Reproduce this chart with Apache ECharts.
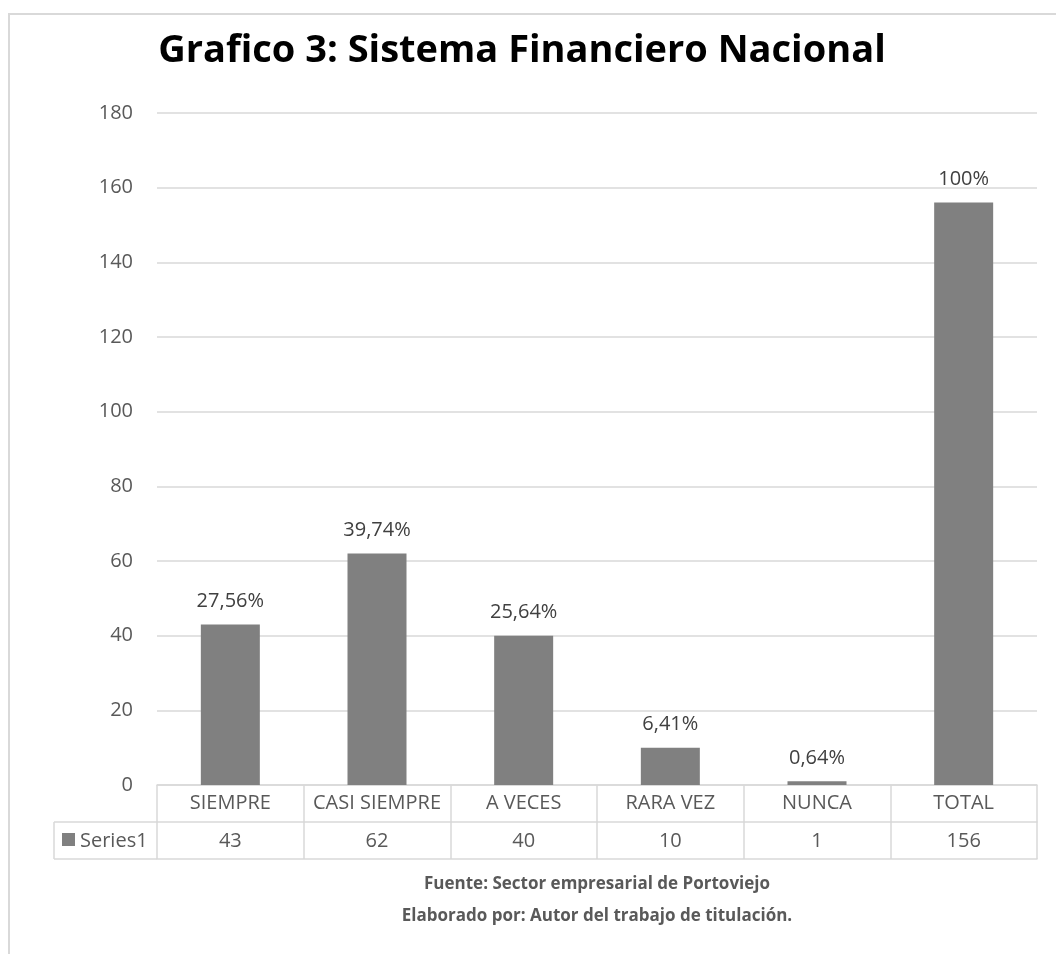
<!DOCTYPE html>
<html><head><meta charset="utf-8">
<script src="https://cdn.jsdelivr.net/npm/echarts@6/dist/echarts.min.js"></script>
<style>
html,body{margin:0;padding:0;background:#fff;}
#frame{position:absolute;left:8px;top:13px;width:1048px;height:941px;border-left:2px solid #d9d9d9;border-top:2px solid #d9d9d9;box-sizing:border-box;}
#chart{position:absolute;left:0;top:0;width:1056px;height:954px;}
</style></head>
<body>
<div id="frame"></div>
<div id="chart"></div>
<script>
const categories = ['SIEMPRE', 'CASI SIEMPRE', 'A VECES', 'RARA VEZ', 'NUNCA', 'TOTAL'];
const values = [43, 62, 40, 10, 1, 156];
const pctLabels = ['27,56%', '39,74%', '25,64%', '6,41%', '0,64%', '100%'];
const yTicks = [0, 20, 40, 60, 80, 100, 120, 140, 160, 180];
const seriesName = 'Series1';
const titleText = 'Grafico 3: Sistema Financiero Nacional';
const footer1 = 'Fuente: Sector empresarial de Portoviejo';
const footer2 = 'Elaborado por: Autor del trabajo de titulación.';

const FONT = '"Open Sans", "Noto Sans", sans-serif';
const chart = echarts.init(document.getElementById('chart'));
const gridLeft = 157, gridRight = 19, gridTop = 113, gridBottom = 169;
const rowH = 37;
const lineCol = '#d9d9d9';

chart.setOption({
  animation: false,
  title: {
    text: titleText, left: 517, top: 27, textAlign: 'center',
    textStyle: { fontFamily: FONT, fontWeight: 'bold', fontSize: 38, color: '#000' }
  },
  grid: { left: gridLeft, right: gridRight, top: gridTop, bottom: gridBottom },
  xAxis: [
    {
      type: 'category', data: categories, position: 'bottom',
      axisLine: { show: true, lineStyle: { color: lineCol, width: 1.5 } },
      axisTick: { show: true, interval: 0, length: rowH * 2, lineStyle: { color: lineCol, width: 1.5 } },
      axisLabel: { interval: 0, margin: 18, verticalAlign: 'middle', fontFamily: FONT, fontSize: 20, color: '#595959' }
    },
    {
      type: 'category', data: values.map(String), position: 'bottom', offset: rowH,
      axisLine: { show: true, lineStyle: { color: lineCol, width: 1.5 } },
      axisTick: { show: false },
      axisLabel: { interval: 0, margin: 19, verticalAlign: 'middle', fontFamily: FONT, fontSize: 20, color: '#595959' }
    },
    {
      type: 'category', data: categories, position: 'bottom', offset: rowH * 2,
      axisLine: { show: true, lineStyle: { color: lineCol, width: 1.5 } },
      axisTick: { show: false }, axisLabel: { show: false }
    }
  ],
  yAxis: {
    type: 'value', min: 0, max: yTicks[yTicks.length - 1], interval: yTicks[1] - yTicks[0],
    axisLine: { show: false }, axisTick: { show: false },
    splitLine: { lineStyle: { color: lineCol, width: 1.5 } },
    axisLabel: { margin: 24, fontFamily: FONT, fontSize: 20, color: '#595959' }
  },
  series: [{
    name: seriesName, type: 'bar', data: values, barWidth: 59, xAxisIndex: 0,
    itemStyle: { color: '#808080' },
    label: {
      show: true, position: 'top', distance: 13,
      formatter: p => pctLabels[p.dataIndex],
      fontFamily: FONT, fontSize: 20, color: '#404040'
    }
  }],
  graphic: [
    { type: 'line', shape: { x1: 54, y1: 822, x2: gridLeft, y2: 822 }, style: { stroke: lineCol, lineWidth: 1.5 } },
    { type: 'line', shape: { x1: 54, y1: 859, x2: gridLeft, y2: 859 }, style: { stroke: lineCol, lineWidth: 1.5 } },
    { type: 'line', shape: { x1: 54, y1: 822, x2: 54, y2: 859 }, style: { stroke: lineCol, lineWidth: 1.5 } },
    { type: 'rect', shape: { x: 62, y: 833, width: 13, height: 13 }, style: { fill: '#808080' } },
    { type: 'text', x: 80, y: 841, style: { text: seriesName, textVerticalAlign: 'middle', fontFamily: FONT, fontSize: 20, fill: '#595959' } },
    { type: 'text', x: 597, y: 884, style: { text: footer1, textAlign: 'center', textVerticalAlign: 'middle', fontFamily: FONT, fontWeight: 'bold', fontSize: 17, fill: '#595959' } },
    { type: 'text', x: 597, y: 916, style: { text: footer2, textAlign: 'center', textVerticalAlign: 'middle', fontFamily: FONT, fontWeight: 'bold', fontSize: 17, fill: '#595959' } }
  ]
});
</script>
</body></html>
